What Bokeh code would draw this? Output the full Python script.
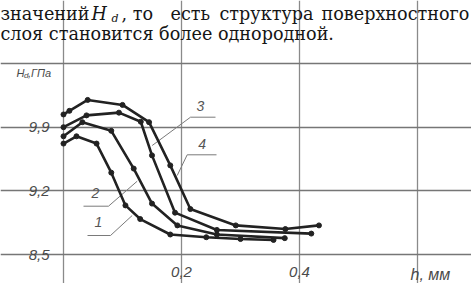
from bokeh.plotting import figure
from bokeh.models import Range1d, FixedTicker, CustomJSTickFormatter, Label
from bokeh.embed import file_html
from bokeh.resources import INLINE

# ---- data (h, mm ; Hd, GPa) ----
h1 = [0.0, 0.022, 0.056, 0.081, 0.105, 0.13, 0.181, 0.242, 0.30, 0.356]
hd1 = [9.72, 9.80, 9.72, 9.40, 9.04, 8.89, 8.72, 8.69, 8.67, 8.66]
h2 = [0.0, 0.032, 0.081, 0.119, 0.15, 0.193, 0.26, 0.375]
hd2 = [9.80, 9.955, 9.86, 9.445, 9.06, 8.82, 8.72, 8.68]
h3 = [0.0, 0.039, 0.094, 0.131, 0.150, 0.189, 0.26, 0.42]
hd3 = [9.90, 10.03, 10.06, 9.96, 9.59, 8.96, 8.77, 8.73]
h4 = [0.0, 0.01, 0.041, 0.10, 0.145, 0.181, 0.215, 0.292, 0.376, 0.433]
hd4 = [10.04, 10.08, 10.20, 10.145, 9.955, 9.48, 9.0, 8.82, 8.78, 8.82]
series = [(h1, hd1), (h2, hd2), (h3, hd3), (h4, hd4)]
curve_names = ["1", "2", "3", "4"]
x_ticks = [0.2, 0.4]
y_ticks = [9.2, 9.9]
x_box = [0.0, 0.6]
y_box = [8.5, 10.6]

# ---- layout: the frame covers the whole canvas; page px <-> data ----
W, H = 471, 283
PX0, PXU = 63.0, 590.0      # page x of h=0, px per mm
PY0, PYU = 254.0, 90.93     # page y of Hd=8.5, px per GPa


def pos(X, Y):
    return (X - PX0) / PXU, y_box[0] + (PY0 - Y) / PYU


p = figure(width=W, height=H,
           x_range=Range1d(pos(0, 0)[0], pos(W, 0)[0]),
           y_range=Range1d(pos(0, H)[1], pos(0, 0)[1]),
           output_backend="svg", toolbar_location=None,
           min_border_left=0, min_border_right=0,
           min_border_top=0, min_border_bottom=0)
p.title.visible = False
p.background_fill_color = "white"
p.border_fill_color = "white"
p.outline_line_color = None

TICK_FONT = "Liberation Sans"
p.xaxis.fixed_location = y_box[0]
p.yaxis.fixed_location = x_box[0]
for ax, tk, so in ((p.xaxis[0], x_ticks, 6), (p.yaxis[0], [y_box[0]] + y_ticks, 8)):
    ax.ticker = FixedTicker(ticks=tk)
    ax.formatter = CustomJSTickFormatter(code="return tick.toFixed(1).replace('.', ',')")
    ax.axis_line_color = None
    ax.major_tick_line_color = None
    ax.minor_tick_line_color = None
    ax.major_label_standoff = so
    ax.major_label_text_font = TICK_FONT
    ax.major_label_text_font_style = "italic"
    ax.major_label_text_font_size = "15px"
    ax.major_label_text_color = "#4a4a4a"

# grid lines (inner) and the box (outer) limited to the plotting area
p.xgrid.ticker = FixedTicker(ticks=x_ticks + x_box)
p.ygrid.ticker = FixedTicker(ticks=y_ticks + y_box)
p.xgrid.bounds = tuple(y_box)
p.ygrid.bounds = tuple(x_box)
p.xgrid.grid_line_color = "#8a8a8a"
p.ygrid.grid_line_color = "#767676"
p.xgrid.grid_line_width = 1.3
p.ygrid.grid_line_width = 1.3

# leader lines for curve numbers (page px)
leaders = [
    [(87, 235), (110, 235), (131.7, 215)],
    [(83, 205.7), (108, 205.7), (136.7, 180.7)],
    [(215, 116.7), (190, 116.7), (151.7, 145)],
    [(216, 154.3), (186.7, 154.3), (176.7, 175)],
]
num_pos = [(98, 221.7), (95, 192.7), (200, 105), (201.7, 143.3)]
for pts in leaders:
    xy = [pos(a, b) for a, b in pts]
    p.line([q[0] for q in xy], [q[1] for q in xy], line_color="#7a7a7a", line_width=1)

for xs, ys in series:
    p.line(xs, ys, line_color="#222222", line_width=2.6)
    p.scatter(xs, ys, size=5, marker="circle", fill_color="#222222", line_color="#222222")


def lab(X, Y, text, size, style="italic", font=TICK_FONT, color="#4a4a4a",
        align="left", baseline="alphabetic"):
    x, y = pos(X, Y)
    p.add_layout(Label(x=x, y=y, text=text, text_align=align, text_baseline=baseline,
                       text_font=font, text_font_style=style,
                       text_font_size=size, text_color=color))


for name, (a, b) in zip(curve_names, num_pos):
    lab(a, b, name, "14px", color="#555555", align="center", baseline="middle")

# axis titles
lab(16, 72, "H", "11px")
lab(23.5, 75, "d", "8px")
lab(27.5, 72, ",ГПа", "11px")
lab(410, 274, "h, мм", "16px")

# header text (justified first line)
SERIF = "DejaVu Serif"
INK = "#161616"
HS = "17.6px"
lab(0, 13.5, "значений", HS, style="normal", font=SERIF, color=INK)
lab(91, 13.5, "H", HS, style="italic", font=SERIF, color=INK)
lab(111, 18, "d", "11px", style="italic", font=SERIF, color=INK)
for xw, word in [(121, ", то"), (170, "есть"), (219, "структура"), (321, "поверхностного")]:
    lab(xw, 13.5, word, HS, style="normal", font=SERIF, color=INK)
lab(0, 33.5, "слоя становится более однородной.", HS, style="normal", font=SERIF, color=INK)

open("out.html", "w").write(file_html(p, INLINE))
